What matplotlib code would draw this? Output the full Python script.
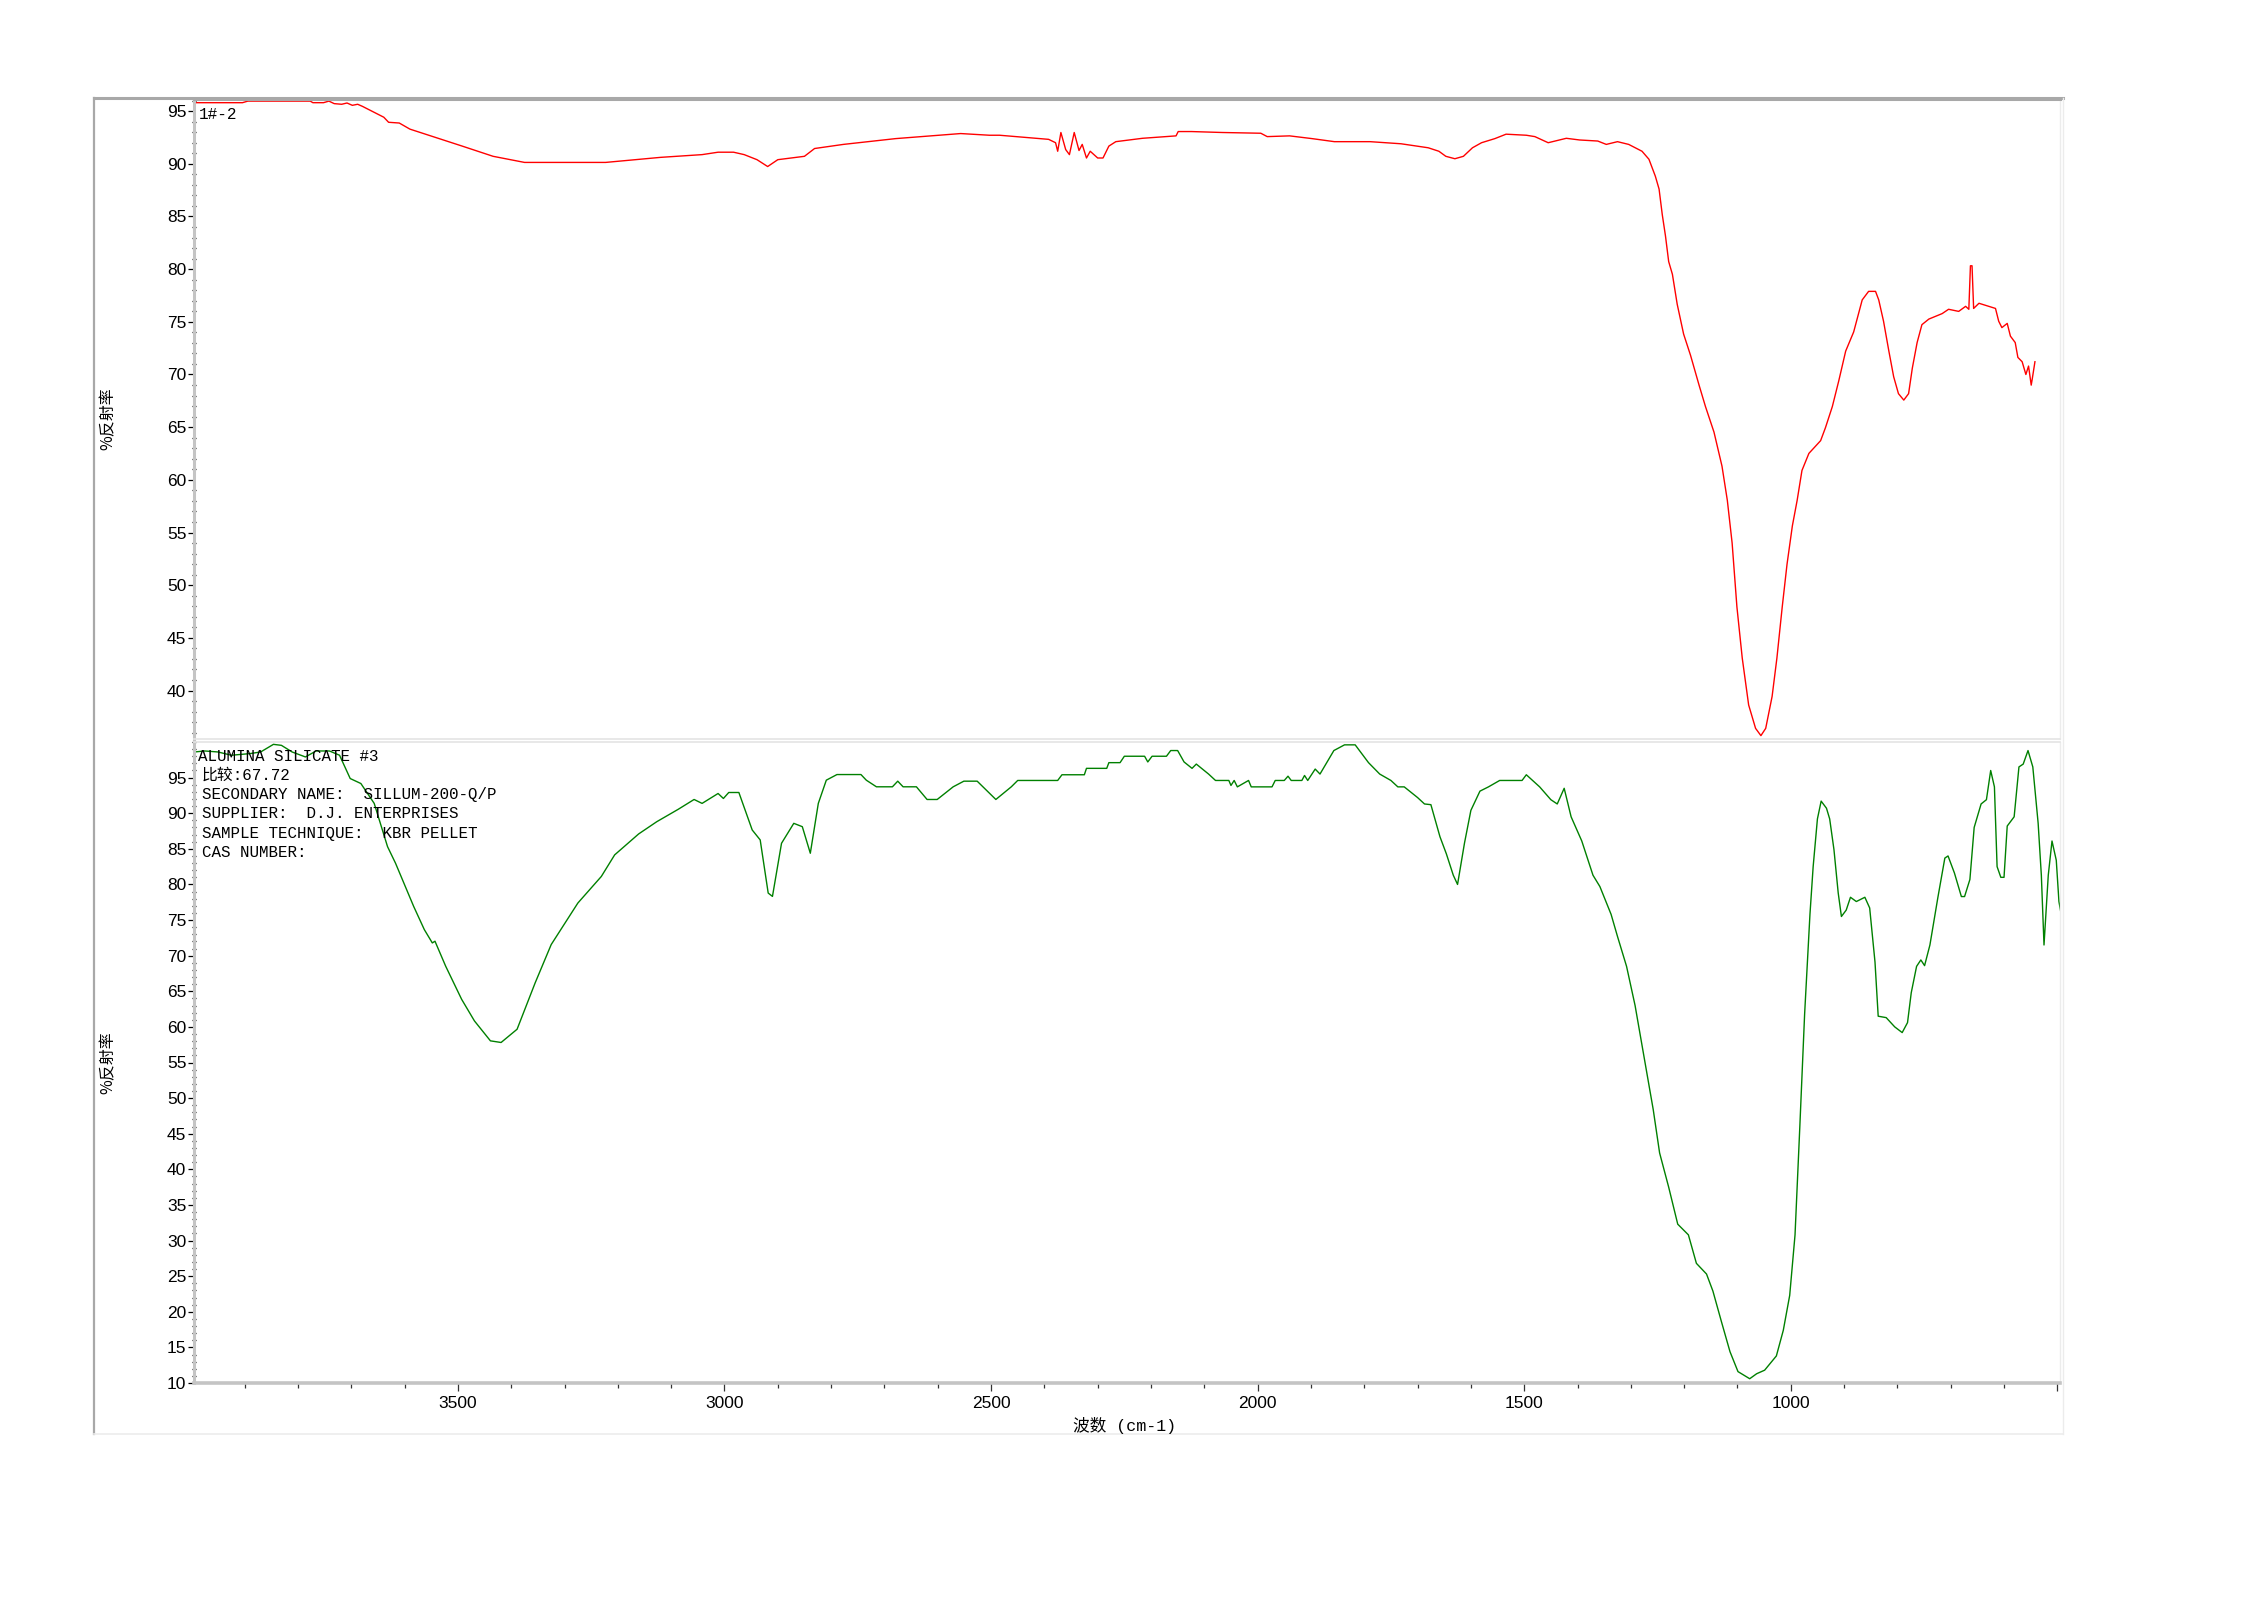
import matplotlib
matplotlib.use("Agg")
import matplotlib.pyplot as plt
from matplotlib.lines import Line2D
from matplotlib.ticker import MultipleLocator, FixedLocator
from matplotlib import font_manager

# ---------------------------------------------------------------------------
# data (wavenumber cm-1, %R)
# ---------------------------------------------------------------------------
red_wn = [4002, 3904, 3894, 3777, 3772, 3752, 3742, 3732, 3718, 3708, 3698, 3688,
          3679, 3664, 3639, 3630, 3610, 3590, 3551, 3492, 3434, 3375, 3223, 3189,
          3120, 3042, 3012, 2983, 2963, 2939, 2919, 2900, 2850, 2831, 2777, 2679,
          2557, 2503,
          2484, 2392, 2379, 2375, 2369, 2360, 2353, 2344, 2335, 2329, 2321, 2314,
          2307, 2300, 2290, 2279, 2266, 2216, 2153, 2149, 2124, 2066, 1994, 1982,
          1940, 1898, 1856, 1789, 1731, 1680, 1660, 1647, 1630, 1614, 1597, 1580,
          1555, 1534, 1496, 1480, 1455, 1421, 1396, 1362, 1346, 1325, 1304, 1279,
          1266, 1254, 1247, 1241, 1235, 1229, 1222, 1213, 1201, 1188, 1172, 1160,
          1144, 1129, 1119, 1110, 1101, 1091, 1079, 1066, 1056, 1047, 1035, 1026,
          1016, 1007, 997, 988, 979, 966, 944, 935, 922, 910, 897, 882, 866, 854,
          841, 835, 826, 816, 807, 798, 788, 779, 772, 763, 754, 741, 716, 704,
          685, 672, 666, 663, 660, 657, 647, 629, 616, 610, 604, 594, 588, 579,
          574, 566, 559, 554, 549, 547, 542]
red_r = [95.80, 95.80, 95.95, 95.95, 95.80, 95.80, 95.95, 95.71, 95.65, 95.77, 95.55, 95.65,
         95.45, 95.06, 94.42, 93.94, 93.87, 93.29, 92.65, 91.68, 90.71, 90.13, 90.13, 90.29,
         90.61, 90.87, 91.10, 91.10, 90.87, 90.39, 89.74, 90.39, 90.71, 91.45, 91.84, 92.39,
         92.87, 92.71,
         92.71, 92.32, 92.00, 91.19, 92.97, 91.35, 90.87, 92.97, 91.26, 91.84, 90.55, 91.19,
         90.87, 90.55, 90.55, 91.68, 92.10, 92.42, 92.65, 93.06, 93.06, 92.97, 92.90, 92.58,
         92.65, 92.39, 92.10, 92.10, 91.90, 91.52, 91.19, 90.71, 90.48, 90.71, 91.52, 92.00,
         92.39, 92.81, 92.71, 92.58, 92.00, 92.42, 92.26, 92.16, 91.84, 92.10, 91.84, 91.19,
         90.43, 88.82, 87.60, 85.17, 83.15, 80.72, 79.51, 76.67, 73.84, 71.82, 68.99, 66.96,
         64.53, 61.30, 58.06, 54.01, 47.94, 43.08, 38.63, 36.41, 35.72, 36.41, 39.44, 43.08,
         47.94, 51.99, 55.63, 58.06, 60.89, 62.51, 63.72, 64.94, 66.96, 69.39, 72.22, 74.04,
         77.08, 77.89, 77.89, 77.08, 75.06, 72.22, 69.79, 68.18, 67.57, 68.18, 70.60, 73.03,
         74.73, 75.26, 75.78, 76.19, 75.99, 76.47, 76.19, 80.32, 80.32, 76.27, 76.76, 76.47,
         76.27, 75.06, 74.45, 74.85, 73.64, 73.03, 71.62, 71.21, 70.00, 70.80, 68.99, 69.59,
         71.21]

green_wn = [3994, 3975, 3950, 3925, 3890, 3870, 3846, 3831, 3811, 3786, 3766, 3741,
            3722, 3702, 3682, 3657, 3632, 3617, 3583, 3563, 3548, 3543, 3523, 3493,
            3469, 3439, 3419, 3389, 3355, 3325, 3305, 3275, 3231, 3206, 3161, 3127,
            3087, 3057, 3042, 3012, 3002, 2992, 2973, 2948, 2933, 2918, 2910, 2893,
            2870, 2854, 2839, 2824, 2809, 2789, 2744, 2734, 2715, 2685, 2675, 2665,
            2640, 2620, 2601, 2571, 2551, 2526, 2491, 2462,
            2450, 2375, 2367, 2325, 2321, 2283, 2279, 2258, 2250, 2212, 2206, 2198,
            2171, 2163, 2150, 2138, 2123, 2115, 2092, 2079, 2054, 2050, 2044, 2038,
            2017, 2012, 1973, 1967, 1950, 1943, 1937, 1917, 1912, 1906, 1892, 1883,
            1857, 1837, 1817, 1792, 1771, 1750, 1737, 1725, 1700, 1687, 1675, 1658,
            1646, 1633, 1625, 1612, 1600, 1583, 1567, 1546, 1504, 1496, 1471, 1450,
            1438, 1425, 1412, 1392, 1371, 1358, 1337, 1325, 1308, 1292, 1275, 1258,
            1246, 1229, 1212, 1192, 1177,
            1158, 1146, 1130, 1114, 1099, 1077, 1064, 1049, 1027, 1014, 1002, 992,
            983, 974, 964, 958, 950, 943, 933, 927, 919, 911, 905, 896, 888, 877,
            861, 852, 842, 836, 821, 805, 791, 781, 774, 764, 756, 749, 739, 724,
            711, 705, 693, 680, 674, 664, 656, 643, 633, 625, 618, 613, 606, 600,
            594, 581, 572, 564, 555, 546, 536, 530, 525, 522, 517, 510, 502, 497, 492]
green_r = [98.60, 98.74, 98.60, 98.14, 98.37, 98.60, 99.67, 99.53, 98.60, 97.90, 98.74, 98.74,
           98.14, 94.87, 94.17, 91.38, 85.31, 82.98, 76.92, 73.66, 71.79, 72.03, 68.53, 63.87,
           60.84, 58.04, 57.81, 59.67, 66.20, 71.56, 73.89, 77.39, 81.12, 84.15, 87.09, 88.81,
           90.54, 91.93, 91.38, 92.77, 92.07, 92.91, 92.91, 87.65, 86.25, 78.79, 78.32, 85.78,
           88.58, 88.11, 84.38, 91.38, 94.64, 95.43, 95.43, 94.64, 93.71, 93.71, 94.50, 93.71,
           93.71, 91.93, 91.93, 93.71, 94.50, 94.50, 91.93, 93.71,
           94.6, 94.6, 95.4, 95.4, 96.3, 96.3, 97.1, 97.1, 98.0, 98.0, 97.2, 98.0,
           98.0, 98.8, 98.8, 97.2, 96.3, 96.9, 95.5, 94.6, 94.6, 93.9, 94.6, 93.7,
           94.6, 93.7, 93.7, 94.6, 94.6, 95.2, 94.6, 94.6, 95.3, 94.6, 96.2, 95.5,
           98.8, 99.6, 99.6, 97.1, 95.5, 94.6, 93.7, 93.7, 92.2, 91.3, 91.2, 86.7,
           84.3, 81.3, 80.0, 85.8, 90.4, 93.1, 93.7, 94.6, 94.6, 95.4, 93.7, 91.9,
           91.3, 93.5, 89.5, 86.1, 81.3, 79.7, 75.8, 72.7, 68.5, 63.0, 55.7, 48.4,
           42.3, 37.5, 32.3, 30.8, 26.8,
           25.3, 22.9, 18.6, 14.4, 11.6, 10.6, 11.3, 11.8, 13.8, 17.4, 22.3, 30.8,
           46.0, 61.8, 75.8, 82.5, 89.2, 91.7, 90.7, 89.2, 84.9, 78.8, 75.5, 76.4, 78.2, 77.6,
           78.2, 76.7, 69.1, 61.5, 61.3, 60.0, 59.2, 60.6, 64.8, 68.5, 69.4, 68.6, 71.5, 78.2,
           83.7, 84.0, 81.6, 78.3, 78.3, 80.7, 88.0, 91.3, 91.9, 96.0, 93.7, 82.5, 81.0, 81.0,
           88.2, 89.5, 96.5, 96.9, 98.8, 96.5, 88.6, 81.3, 71.5, 75.2, 81.3, 86.1, 83.4, 77.6, 75.5]

top_label = "1#-2"
info_lines = ["ALUMINA SILICATE #3",
              "比较:67.72",
              "SECONDARY NAME:  SILLUM-200-Q/P",
              "SUPPLIER:  D.J. ENTERPRISES",
              "SAMPLE TECHNIQUE:  KBR PELLET",
              "CAS NUMBER:"]
ylabel = "%反射率"
xlabel = "波数 (cm-1)"
xtick_major = [1000, 1500, 2000, 2500, 3000, 3500]

# ---------------------------------------------------------------------------
# fonts
# ---------------------------------------------------------------------------
names = {f.name for f in font_manager.fontManager.ttflist}
tick_font = "Liberation Sans Narrow" if "Liberation Sans Narrow" in names else "Liberation Sans"
mono = ["Liberation Mono", "Noto Sans CJK SC"]
cjk = ["Noto Sans CJK SC", "DejaVu Sans"]

W, H = 2259, 1622
fig = plt.figure(figsize=(W / 100, H / 100), dpi=100)

# panel positions in pixels
x_left, x_right = 194, 2060
top1, bot1 = 99, 739
top2, bot2 = 742, 1383
ax1 = fig.add_axes([x_left / W, 1 - bot1 / H, (x_right - x_left) / W, (bot1 - top1) / H])
ax2 = fig.add_axes([x_left / W, 1 - bot2 / H, (x_right - x_left) / W, (bot2 - top2) / H])

ax1.plot(red_wn, red_r, color="#ff0000", lw=1.0)
ax2.plot(green_wn, green_r, color="#008000", lw=1.0)

axis_grey = "#c4c4c4"
for ax in (ax1, ax2):
    ax.set_xlim(3995, 495)
    ax.spines["left"].set_color(axis_grey)
    ax.spines["left"].set_linewidth(2.2)
    ax.spines["right"].set_color("#ececec")
    ax.spines["right"].set_linewidth(1.0)
    ax.spines["top"].set_color("#e4e4e4")
    ax.spines["top"].set_linewidth(1.2)
    ax.yaxis.set_minor_locator(MultipleLocator(1))
    ax.tick_params(axis="y", which="major", direction="out", length=4.5, width=0.9,
                   color="black", pad=1, labelsize=12.5)
    ax.tick_params(axis="y", which="minor", direction="inout", length=2.6, width=0.9,
                   color="black")

# top panel
ax1.set_ylim(35.4, 96.15)
ax1.yaxis.set_major_locator(FixedLocator(list(range(40, 96, 5))))
ax1.set_yticklabels([str(v) for v in range(40, 96, 5)], family=tick_font, fontsize=12.5)
ax1.set_xticks([])
ax1.spines["bottom"].set_color("#e4e4e4")
ax1.spines["bottom"].set_linewidth(1.2)
ax1.spines["top"].set_color("#a8a8a8")
ax1.spines["top"].set_linewidth(2.2)
ax1.text(5 / (x_right - x_left), 1 - 15 / (bot1 - top1), top_label, transform=ax1.transAxes,
         ha="left", va="center", family=mono, fontsize=11.5)

# bottom panel
ax2.set_ylim(10, 100)
ax2.yaxis.set_major_locator(FixedLocator(list(range(10, 96, 5))))
ax2.set_yticklabels([str(v) for v in range(10, 96, 5)], family=tick_font, fontsize=12.5)
ax2.xaxis.set_major_locator(FixedLocator([500] + xtick_major))
ax2.set_xticklabels([""] + [str(v) for v in xtick_major], family=tick_font, fontsize=12.5)
ax2.xaxis.set_minor_locator(MultipleLocator(100))
ax2.spines["bottom"].set_color(axis_grey)
ax2.spines["bottom"].set_linewidth(2.6)
ax2.tick_params(axis="x", which="major", direction="out", length=6, width=0.9,
                color="#333333", pad=3)
ax2.tick_params(axis="x", which="minor", direction="out", length=3.5, width=0.9,
                color="#333333")

for i, line in enumerate(info_lines):
    x0 = 4 if i == 0 else 8
    ax2.text(x0 / (x_right - x_left), 1 - (14 + 19.3 * i) / (bot2 - top2), line,
             transform=ax2.transAxes, ha="left", va="center", family=mono, fontsize=11.4)

# axis titles
fig.text(108 / W, 1 - (top1 + bot1) / 2 / H, ylabel, rotation=90, ha="center", va="center",
         family=cjk, fontsize=11.5)
fig.text(108 / W, 1 - (top2 + bot2) / 2 / H, ylabel, rotation=90, ha="center", va="center",
         family=cjk, fontsize=11.5)
fig.text(1125 / W, 1 - 1425 / H, xlabel, ha="center", va="center",
         family=mono, fontsize=12)

# outer frame
def fline(x0, y0, x1, y1, color, lw):
    fig.add_artist(Line2D([x0 / W, x1 / W], [1 - y0 / H, 1 - y1 / H],
                          transform=fig.transFigure, color=color, lw=lw))

fline(94, 98, 94, 1434, "#a8a8a8", 1.6)
fline(94, 98, 2063, 98, "#a8a8a8", 2.2)
fline(2063, 98, 2063, 1434, "#ececec", 1.0)
fline(94, 1434, 2063, 1434, "#ececec", 1.2)

fig.savefig("out.png", dpi=100, facecolor="white")
